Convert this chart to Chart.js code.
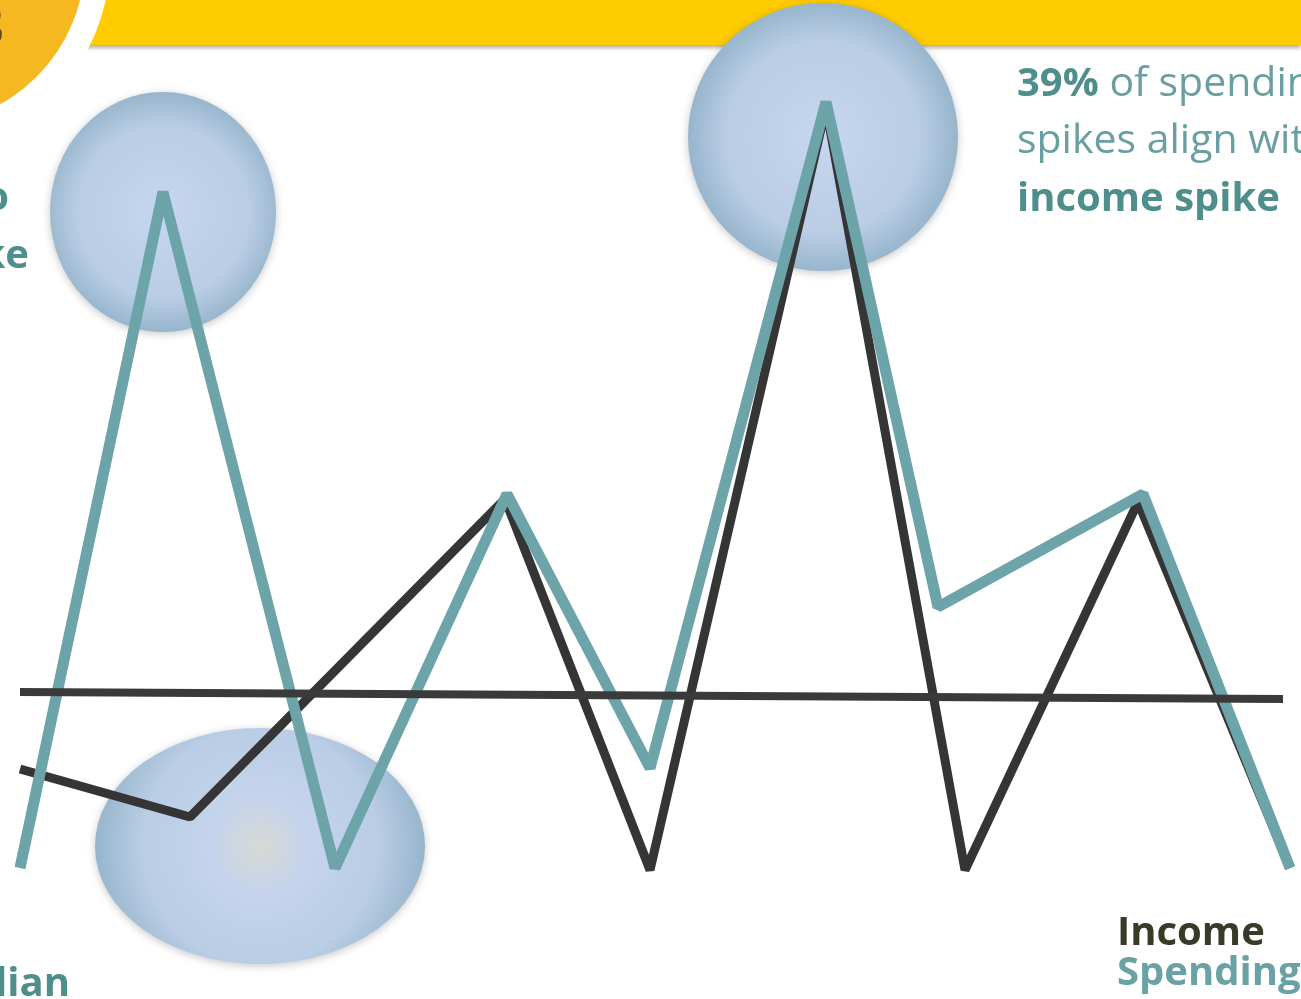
<!DOCTYPE html>
<html>
<head>
<meta charset="utf-8">
<script src="https://cdn.jsdelivr.net/npm/chart.js@4.4.1/dist/chart.umd.min.js"></script>
<style>
  html, body { margin: 0; padding: 0; background: #fff; overflow: hidden; }
  #wrap { position: relative; width: 1301px; height: 999px; }
</style>
</head>
<body>
<div id="wrap"><canvas id="myChart"></canvas></div>
<script>
// spending (teal) line
const spendX = [2.0, 16.3, 33.5, 50.7, 65.0, 82.6, 93.8, 114.3, 129.0];
const spendY = [13.1, 80.7, 13.1, 50.5, 23.1, 89.7, 39.2, 50.5, 13.1];
// income (dark) line
const incomeX = [2.0, 19.0, 50.5, 65.0, 82.6, 96.5, 113.8, 129.0];
const incomeY = [23.0, 18.2, 50.0, 12.9, 89.2, 12.9, 49.7, 13.1];
// median line
const medianX = [2.0, 128.3];
const medianY = [30.7, 30.0];

// highlighted spikes (ellipses, in data units)
const spotX = [16.3, 82.3, 26.0];
const spotY = [78.7, 86.2, 15.3];
const spotRx = [11.3, 13.5, 16.5];
const spotRy = [12.0, 13.4, 11.8];

function pts(xs, ys) {
  return xs.map(function (x, i) { return { x: x, y: ys[i] }; });
}

const backdrop = {
  id: "backdrop",
  beforeDraw: function (chart) {
    const ctx = chart.ctx;
    ctx.save();
    ctx.fillStyle = "#ffffff";
    ctx.fillRect(0, 0, chart.width, chart.height);
    // yellow banner with shadow
    ctx.shadowColor = "rgba(90,80,40,0.45)";
    ctx.shadowBlur = 4;
    ctx.shadowOffsetY = 3;
    ctx.fillStyle = "#FFCC00";
    ctx.fillRect(0, -10, chart.width, 55);
    ctx.shadowColor = "transparent";
    // white ring and orange disc top-left
    ctx.fillStyle = "#ffffff";
    ctx.beginPath();
    ctx.arc(-80, -40, 190, 0, Math.PI * 2);
    ctx.fill();
    ctx.fillStyle = "#F5B820";
    ctx.beginPath();
    ctx.arc(-80, -40, 165, 0, Math.PI * 2);
    ctx.fill();
    ctx.fillStyle = "#5a4a18";
    ctx.font = "bold 56px 'Open Sans'";
    ctx.textAlign = "left";
    ctx.fillText("3", -28, 46);
    ctx.restore();
  },
  beforeDatasetsDraw: function (chart) {
    const ctx = chart.ctx;
    const xs = chart.scales.x, ys = chart.scales.y;
    ctx.save();
    for (let i = 0; i < spotX.length; i++) {
      const cx = xs.getPixelForValue(spotX[i]);
      const cy = ys.getPixelForValue(spotY[i]);
      const rx = Math.abs(xs.getPixelForValue(spotX[i] + spotRx[i]) - cx);
      const ry = Math.abs(ys.getPixelForValue(spotY[i] + spotRy[i]) - cy);
      const g = ctx.createRadialGradient(cx, cy, 0, cx, cy, Math.max(rx, ry));
      if (i === 2) {
        g.addColorStop(0, "#D8D8D6");
        g.addColorStop(0.3, "#C4D4EC");
      } else {
        g.addColorStop(0, "#C6D6EE");
      }
      g.addColorStop(0.72, "#B9CDE5");
      g.addColorStop(1, "#96B5CC");
      ctx.shadowColor = "rgba(0,0,0,0.22)";
      ctx.shadowBlur = 8;
      ctx.shadowOffsetY = 2;
      ctx.fillStyle = g;
      ctx.beginPath();
      ctx.ellipse(cx, cy, rx, ry, 0, 0, Math.PI * 2);
      ctx.fill();
    }
    ctx.restore();
  },
  afterDraw: function (chart) {
    const ctx = chart.ctx;
    ctx.save();
    ctx.textBaseline = "alphabetic";
    ctx.textAlign = "left";
    // right note
    ctx.font = "bold 40px 'Open Sans'";
    ctx.fillStyle = "#4E8E8B";
    ctx.fillText("39%", 1017, 96);
    const w = ctx.measureText("39%").width;
    ctx.font = "41px 'Open Sans'";
    ctx.fillStyle = "#6A9FA2";
    ctx.fillText(" of spending", 1017 + w, 96);
    ctx.fillText("spikes align with", 1017, 153);
    ctx.font = "bold 40px 'Open Sans'";
    ctx.fillStyle = "#4E8E8B";
    ctx.fillText("income spike", 1017, 211);
    // legend text
    ctx.fillStyle = "#3A3A28";
    ctx.fillText("Income", 1117, 945);
    ctx.fillStyle = "#6AA1A4";
    ctx.fillText("Spending", 1117, 985);
    // left cut-off note
    ctx.textAlign = "right";
    ctx.fillStyle = "#4E8E8B";
    ctx.fillText("to", 9, 210);
    ctx.fillText("spike", 29, 268);
    ctx.fillText("Median", 70, 996);
    ctx.restore();
  }
};

document.addEventListener("DOMContentLoaded", function () {
  const ctx = document.getElementById("myChart");
  new Chart(ctx, {
    type: "line",
    data: {
      datasets: [{
        label: "Median",
        data: pts(medianX, medianY),
        borderColor: "#3A3A3A",
        borderWidth: 8,
        pointRadius: 0
      }, {
        label: "Spending",
        data: pts(spendX, spendY),
        borderColor: "#6DA4A9",
        borderWidth: 11,
        borderJoinStyle: "bevel",
        pointRadius: 0
      }, {
        label: "Income",
        data: pts(incomeX, incomeY),
        borderColor: "#353535",
        borderWidth: 9,
        borderJoinStyle: "bevel",
        pointRadius: 0
      }]
    },
    options: {
      responsive: true,
      maintainAspectRatio: false,
      animation: false,
      layout: { padding: 0 },
      clip: false,
      plugins: {
        legend: { display: false },
        tooltip: { enabled: false }
      },
      scales: {
        x: { type: "linear", min: 0, max: 130.1, display: false },
        y: { type: "linear", min: 0, max: 99.9, display: false }
      }
    },
    plugins: [backdrop]
  });
});
</script>
</body>
</html>
